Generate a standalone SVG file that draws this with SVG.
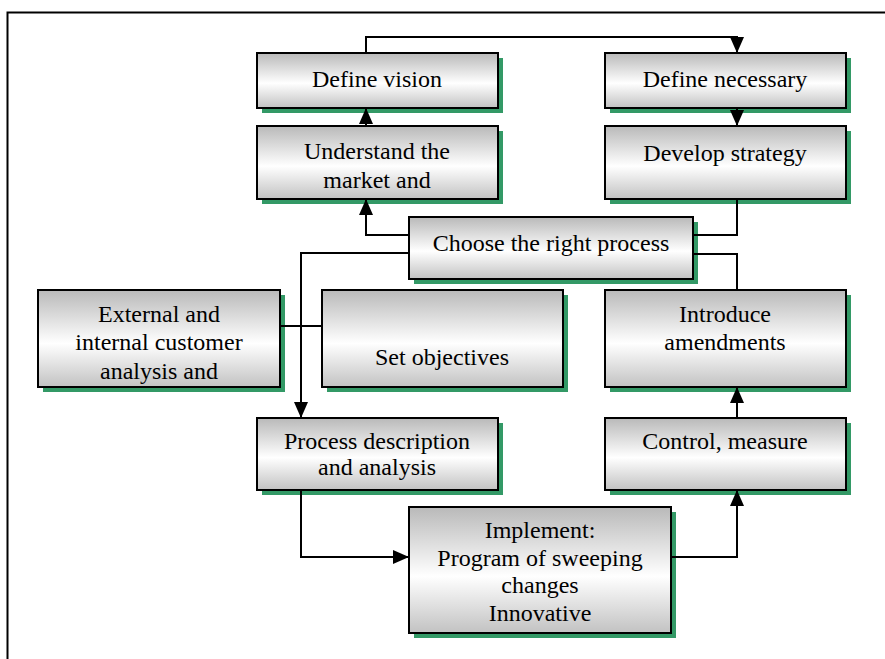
<svg xmlns="http://www.w3.org/2000/svg" width="885" height="659" viewBox="0 0 885 659">
<defs>
<linearGradient id="g" x1="0" y1="0" x2="0" y2="1">
<stop offset="0" stop-color="#b9b9b9"/>
<stop offset="0.55" stop-color="#ffffff"/>
<stop offset="1" stop-color="#c2c2c2"/>
</linearGradient>
<marker id="ah" markerUnits="userSpaceOnUse" markerWidth="16" markerHeight="14" refX="16" refY="7" orient="auto" viewBox="0 0 16 14">
<path d="M0,0 L16,7 L0,14 z" fill="#000"/>
</marker>
<clipPath id="clipExt"><rect x="38" y="290" width="242" height="96"/></clipPath>
</defs>
<style>
.sh{fill:#339966}
.bx{fill:url(#g);stroke:#000;stroke-width:2}
.t{font-family:"Liberation Serif","Times New Roman",serif;font-size:24px;fill:#000;text-anchor:middle}
.c{fill:none;stroke:#000;stroke-width:2}
.a{marker-end:url(#ah)}
</style>
<rect width="885" height="659" fill="#fff"/>
<path d="M7.5,659 V12.5 H885" fill="none" stroke="#000" stroke-width="2"/>

<g id="define-vision">
<rect class="sh" x="262" y="58" width="241" height="55"/>
<rect class="bx" x="257" y="53" width="241" height="55"/>
<text class="t" x="377" y="87">Define vision</text>
</g>
<g id="define-necessary">
<rect class="sh" x="610" y="58" width="241" height="55"/>
<rect class="bx" x="605" y="53" width="241" height="55"/>
<text class="t" x="725" y="87">Define necessary</text>
</g>
<g id="understand-market">
<rect class="sh" x="262" y="131" width="241" height="73"/>
<rect class="bx" x="257" y="126" width="241" height="73"/>
<text class="t" x="377" y="159">Understand the</text>
<text class="t" x="377" y="188">market and</text>
</g>
<g id="develop-strategy">
<rect class="sh" x="610" y="131" width="241" height="73"/>
<rect class="bx" x="605" y="126" width="241" height="73"/>
<text class="t" x="725" y="161">Develop strategy</text>
</g>
<g id="choose-process">
<rect class="sh" x="414" y="222" width="284" height="62"/>
<rect class="bx" x="409" y="217" width="284" height="62"/>
<text class="t" x="551" y="251">Choose the right process</text>
</g>
<g id="external-internal">
<rect class="sh" x="43" y="295" width="242" height="97"/>
<rect class="bx" x="38" y="290" width="242" height="97"/>
<g clip-path="url(#clipExt)">
<text class="t" x="159" y="322">External and</text>
<text class="t" x="159" y="350">internal customer</text>
<text class="t" x="159" y="379">analysis and</text>
</g>
</g>
<g id="set-objectives">
<rect class="sh" x="327" y="295" width="241" height="97"/>
<rect class="bx" x="322" y="290" width="241" height="97"/>
<text class="t" x="442" y="365">Set objectives</text>
</g>
<g id="introduce-amendments">
<rect class="sh" x="610" y="295" width="241" height="97"/>
<rect class="bx" x="605" y="290" width="241" height="97"/>
<text class="t" x="725" y="322">Introduce</text>
<text class="t" x="725" y="350">amendments</text>
</g>
<g id="process-description">
<rect class="sh" x="262" y="423" width="241" height="72"/>
<rect class="bx" x="257" y="418" width="241" height="72"/>
<text class="t" x="377" y="449">Process description</text>
<text class="t" x="377" y="475">and analysis</text>
</g>
<g id="control-measure">
<rect class="sh" x="610" y="423" width="241" height="72"/>
<rect class="bx" x="605" y="418" width="241" height="72"/>
<text class="t" x="725" y="449">Control, measure</text>
</g>
<g id="implement">
<rect class="sh" x="414" y="512" width="262" height="126"/>
<rect class="bx" x="409" y="507" width="262" height="126"/>
<text class="t" x="540" y="538">Implement:</text>
<text class="t" x="540" y="566">Program of sweeping</text>
<text class="t" x="540" y="593">changes</text>
<text class="t" x="540" y="621">Innovative</text>
</g>

<g id="connectors">
<path class="c a" d="M366,53 V37 H737 V53"/>
<path class="c a" d="M737,108 V126"/>
<path class="c a" d="M366,126 V108"/>
<path class="c a" d="M409,235 H366 V199"/>
<path class="c" d="M737,199 V235 H693"/>
<path class="c" d="M693,254 H737 V290"/>
<path class="c a" d="M409,253 H301 V418"/>
<path class="c" d="M280,326 H322"/>
<path class="c a" d="M301,490 V557 H409"/>
<path class="c a" d="M671,557 H737 V490"/>
<path class="c a" d="M737,418 V387"/>
</g>
</svg>
